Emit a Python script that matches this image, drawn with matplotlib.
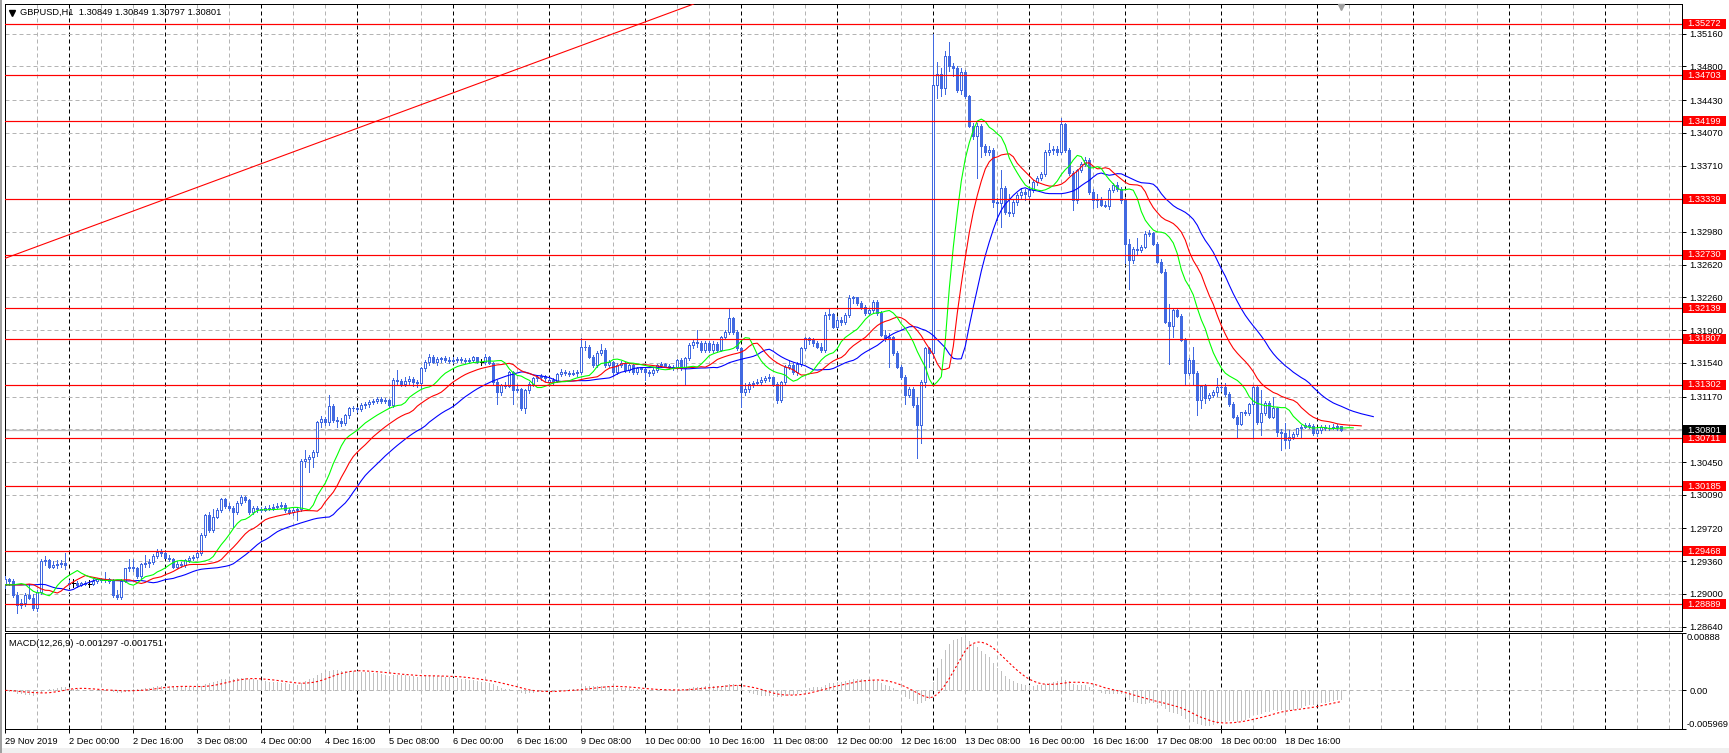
import numpy as np
import matplotlib
matplotlib.use('Agg')
import matplotlib.pyplot as plt
from matplotlib import transforms
from matplotlib.patches import Rectangle

plt.rcParams['font.family'] = ['Liberation Sans', 'DejaVu Sans']

# ---------------- DATA (prices in pips relative to 1.30000) ----------------
symbol_title = "GBPUSD,H1  1.30849 1.30849 1.30797 1.30801"
macd_title = "MACD(12,26,9) -0.001297 -0.001751"
base_price = 1.30000

opens_pips = [
    # 29 Nov
    -90,-84,-86,-101,-112,-110,-101,-104,-115,-98,-64,-63,-70,-68,-67,-66,
    # 2 Dec
    -88,-88,-88,-90,-88,-89,-89,-86,-84,-85,-84,-86,-101,-103,-86,-72,-70,-72,-80,-67,-66,-65,-58,-54,
    # 3 Dec
    -55,-60,-62,-70,-67,-68,-63,-61,-59,-55,-35,-13,-30,-15,-8,4,-3,-6,-10,0,7,3,-10,-6,
    # 4 Dec
    -7,-8,-5,-6,-4,-3,-2,-8,-10,-8,-7,46,48,51,56,89,92,89,107,91,90,88,97,104,
    # 5 Dec
    105,103,108,109,111,112,114,112,113,108,135,134,131,134,136,133,132,148,155,161,155,158,159,157,
    # 6 Dec
    156,157,158,157,156,157,160,155,155,161,154,133,122,130,129,144,124,125,104,124,131,137,138,140,
    # 9 Dec
    133,135,134,142,144,143,142,143,144,172,171,161,152,165,168,152,155,144,152,154,146,152,144,148,
    # 10 Dec
    147,144,143,146,152,153,151,150,149,157,148,159,174,177,176,168,176,168,175,168,182,188,203,188,
    # 11 Dec
    170,122,125,131,132,133,135,137,138,131,113,133,150,152,144,153,170,181,179,176,172,168,207,208,
    # 12 Dec
    194,201,199,207,225,226,220,216,209,212,221,209,185,181,183,165,150,139,119,125,108,86,133,170,
    # 13 Dec
    165,460,472,456,492,480,478,454,474,447,415,403,415,392,386,388,331,330,346,320,319,331,339,342,
    # 16 Dec
    338,344,353,357,362,386,388,389,386,417,388,363,333,366,373,377,342,333,334,328,327,344,350,345,
    # 17 Dec
    333,285,267,279,278,282,296,297,285,265,254,199,195,212,206,179,143,157,143,113,129,115,119,122,
    # 18 Dec
    128,127,120,109,95,87,100,99,109,128,89,99,110,95,105,78,77,69,73,76,82,84,86,85,
    # 19 Dec
    77,80,84,82,83,84,84.9,
]
highs_pips = [
    -80,-82,-84,-98,-106,-99,-89,-100,-96,-62,-58,-62,-64,-63,-63,-55,
    -85,-84,-86,-87,-86,-85,-84,-82,-82,-76,-82,-84,-96,-84,-71,-62,-62,-70,-66,-57,-62,-56,-51,-51,
    -53,-57,-60,-64,-65,-62,-58,-57,-52,-33,-12,-10,-7,-5,5,6,0,-3,2,9,8,4,-3,-3,
    -4,-3,-2,-1,0,1,0,-6,-6,-5,48,58,53,58,90,96,95,119,109,95,94,98,106,107,
    106,110,111,113,114,117,116,115,114,137,146,136,139,140,138,135,150,157,164,163,160,161,162,160,
    160,161,160,159,159,162,161,158,164,162,155,135,131,133,145,145,131,126,125,133,139,141,142,141,
    138,137,143,147,146,145,146,146,181,178,174,163,167,175,170,157,156,154,156,155,154,153,150,150,
    149,146,148,153,155,154,153,152,158,159,161,176,180,190,178,178,178,178,177,184,190,214,205,190,
    172,132,133,134,136,138,140,142,139,133,134,152,156,154,155,172,183,183,181,178,176,210,214,209,
    204,205,209,229,228,227,222,218,214,223,223,211,190,187,184,167,152,141,128,127,117,135,172,172,
    516,485,478,497,507,484,481,478,476,449,418,418,417,395,392,390,335,366,348,340,333,341,345,345,
    346,355,359,364,388,396,392,392,423,418,390,365,367,375,380,379,345,340,336,332,346,352,353,347,
    335,290,281,291,284,299,300,298,287,268,257,219,214,214,208,181,159,172,145,130,131,121,124,137,
    131,132,122,111,97,100,102,110,129,130,124,112,112,117,106,81,88,80,78,83,86,88,88,87,
    83,86,86,86,87,87,84.9,
]
lows_pips = [
    -93,-90,-103,-121,-116,-113,-106,-118,-119,-100,-68,-72,-72,-71,-70,-73,
    -92,-92,-92,-91,-90,-92,-90,-88,-87,-87,-88,-103,-106,-106,-87,-75,-75,-82,-82,-70,-70,-67,-60,-58,
    -61,-64,-72,-72,-70,-70,-65,-63,-61,-57,-37,-32,-32,-17,-10,-5,-8,-26,-12,-2,1,-12,-12,-10,
    -10,-9,-8,-8,-6,-5,-10,-12,-13,-19,-9,40,34,40,52,84,86,86,89,84,85,86,94,101,
    100,101,105,106,109,110,110,110,106,106,131,129,129,131,129,128,126,145,152,154,152,155,155,154,
    154,155,155,154,154,155,154,152,153,153,130,109,119,126,128,109,122,102,99,121,129,134,135,134,
    131,131,133,140,141,140,141,140,142,168,159,150,150,163,150,149,141,142,150,144,144,142,142,144,
    135,140,141,144,150,149,148,146,147,146,131,157,170,172,166,166,166,166,166,167,180,186,186,168,
    106,119,122,128,130,131,133,134,129,110,111,131,147,142,141,151,168,175,173,170,166,166,202,192,
    192,196,197,205,220,218,213,207,207,210,207,184,178,150,163,148,136,109,117,106,49,66,128,150,
    160,445,448,450,475,470,452,450,445,413,400,357,380,383,383,325,311,304,318,316,316,328,335,333,
    335,342,350,355,360,383,384,383,384,386,361,322,330,364,370,340,324,326,327,325,323,342,343,330,
    264,235,264,273,276,280,294,284,264,253,198,153,183,204,178,131,141,131,97,104,110,113,116,118,
    123,118,107,94,71,86,97,97,73,87,75,97,93,93,74,58,61,60,70,74,71,82,82,75,
    74,77,80,80,81,80,79.7,
]
closes_pips = [
    -84,-86,-101,-112,-110,-101,-104,-115,-98,-64,-63,-70,-68,-67,-66,-68,
    -89,-88,-90,-88,-89,-89,-86,-84,-85,-84,-86,-101,-103,-86,-72,-70,-72,-80,-67,-66,-65,-58,-54,-55,
    -60,-62,-70,-67,-68,-63,-61,-59,-55,-35,-13,-30,-15,-8,4,-3,-6,-10,0,7,3,-10,-6,-7,
    -8,-5,-6,-4,-3,-2,-8,-10,-8,-7,46,48,51,56,89,92,89,107,91,90,88,97,104,105,
    103,108,109,111,112,114,112,113,108,135,134,131,134,136,133,132,148,155,161,155,158,159,157,156,
    157,158,157,156,157,160,155,155,161,154,133,122,130,129,144,124,125,104,124,131,137,138,140,137,
    135,134,142,144,143,142,143,144,172,171,161,152,165,168,152,155,144,152,154,146,152,144,148,147,
    144,143,146,152,153,151,150,149,157,148,159,174,177,176,168,176,168,175,168,182,188,203,188,170,
    122,125,131,132,133,135,137,138,131,113,133,150,152,144,153,170,181,179,176,172,168,207,208,194,
    201,199,207,225,226,220,216,209,212,221,209,185,181,183,165,150,139,119,125,108,86,133,170,165,
    460,472,456,492,480,478,454,474,447,415,403,415,392,386,388,331,330,346,320,319,331,339,342,340,
    344,353,357,362,386,388,389,386,417,388,363,333,366,373,377,342,333,334,328,327,344,350,345,333,
    285,267,279,278,282,296,297,285,265,254,199,195,212,206,179,143,157,143,113,129,115,119,122,128,
    127,120,109,95,87,100,99,109,128,89,99,110,95,105,78,77,69,73,76,82,84,86,85,77,
    80,84,82,83,84,85,80.1,
]

# Horizontal support/resistance levels (red) and current price
level_prices = [1.35272, 1.34703, 1.34199, 1.33339, 1.32730, 1.32139,
                1.31807, 1.31302, 1.30711, 1.30185, 1.29468, 1.28889]
current_price = 1.30801
# Red trend line anchors (bar index, price)
trend_bars = [-1.3, 172.3]
trend_prices = [1.3267, 1.3549]
# Price axis ticks
price_ticks = [1.35160, 1.34800, 1.34430, 1.34070, 1.33710, 1.33340, 1.32980,
               1.32620, 1.32260, 1.31900, 1.31540, 1.31170, 1.30810, 1.30450,
               1.30090, 1.29720, 1.29360, 1.29000, 1.28640]
# Time axis labels (every 16 H1 bars)
time_label_bars = list(range(0, 321, 16))
time_labels = ["29 Nov 2019", "2 Dec 00:00", "2 Dec 16:00", "3 Dec 08:00", "4 Dec 00:00",
               "4 Dec 16:00", "5 Dec 08:00", "6 Dec 00:00", "6 Dec 16:00", "9 Dec 08:00",
               "10 Dec 00:00", "10 Dec 16:00", "11 Dec 08:00", "12 Dec 00:00", "12 Dec 16:00",
               "13 Dec 08:00", "16 Dec 00:00", "16 Dec 16:00", "17 Dec 08:00", "18 Dec 00:00",
               "18 Dec 16:00"]
first_day_bar = 16          # 2 Dec 00:00
macd_range = [-0.005969, 0.00888]
# Alligator (jaw, teeth, lips): period, shift, starting value (pips) read at left edge
alligator_periods = [13, 8, 5]
alligator_shifts = [8, 5, 3]
alligator_seeds_pips = [-90, -90, -90]

# ---------------- derived series ----------------
o = base_price + np.array(opens_pips, float) / 1e4
h = base_price + np.array(highs_pips, float) / 1e4
l = base_price + np.array(lows_pips, float) / 1e4
c = base_price + np.array(closes_pips, float) / 1e4
h = np.maximum.reduce([h, o, c])
l = np.minimum.reduce([l, o, c])
n = len(c)
idx = np.arange(n)

def smma(vals, period, seed):
    out = np.empty(len(vals))
    s = seed
    for k, v in enumerate(vals):
        s = (s * (period - 1) + v) / period
        out[k] = s
    return out

def ema(vals, period):
    a = 2.0 / (period + 1)
    out = np.empty(len(vals))
    s = vals[0]
    for k, v in enumerate(vals):
        s = s + a * (v - s)
        out[k] = s
    return out

median = (h + l) / 2
macd = ema(c, 12) - ema(c, 26)
signal = np.array([macd[max(0, k - 8):k + 1].mean() for k in range(n)])

# ---------------- figure layout ----------------
W, H = 1729, 753
DPI = 100
PX = 72.0 / DPI  # one pixel in points
fig = plt.figure(figsize=(W / DPI, H / DPI), dpi=DPI)
fig.patch.set_facecolor('white')

def rect(x0, y0, x1, y1):
    return [x0 / W, 1 - y1 / H, (x1 - x0) / W, (y1 - y0) / H]

MAIN = (5, 4, 1682, 631)
SUB = (5, 633, 1682, 729)
ax = fig.add_axes(rect(*MAIN))
axm = fig.add_axes(rect(*SUB), sharex=ax)

BAR0, STEP = 5.3, 4.0
xlim = ((MAIN[0] - BAR0) / STEP, (MAIN[2] - BAR0) / STEP)
ax.set_xlim(*xlim)
ylo, yhi = 1.285926, 1.354866
ax.set_ylim(ylo, yhi)
axm.set_ylim(macd_range[0], macd_range[1])

FS = 6.7
CANDLE = '#4169E1'
GRID = '#B4B4B4'
DASH = (0, (4, 3))

for a in (ax, axm):
    a.set_facecolor('white')
    for s in a.spines.values():
        s.set_color('black')
        s.set_linewidth(PX)
    # vertical grid: every 8 bars, black dashed day separators
    for b in range(8, int(xlim[1]) + 1, 8):
        if b >= first_day_bar and (b - first_day_bar) % 24 == 0:
            a.axvline(b, color='black', lw=PX, ls=DASH, zorder=1)
        else:
            a.axvline(b, color=GRID, lw=PX, ls=DASH, zorder=1)

for t in price_ticks:
    ax.axhline(t, color=GRID, lw=PX, ls=DASH, zorder=1)
axm.axhline(0, color=GRID, lw=PX, ls=DASH, zorder=1)

# current price line
ax.axhline(current_price, color='#C0C0C0', lw=1.3 * PX, zorder=2)

# candles (crisp, non-antialiased 1-pixel strokes)
bull = c > o
bear = c < o
doji = c == o
ax.vlines(idx[~doji], l[~doji], h[~doji], colors=CANDLE, lw=PX, zorder=3, antialiased=False)
ax.bar(idx[bull], (c - o)[bull], bottom=o[bull], width=0.5, facecolor='white',
       edgecolor=CANDLE, linewidth=PX, zorder=4, antialiased=False)
ax.bar(idx[bear], (o - c)[bear], bottom=c[bear], width=0.5, facecolor=CANDLE,
       edgecolor=CANDLE, linewidth=PX, zorder=4, antialiased=False)
ax.vlines(idx[doji], l[doji], h[doji], colors='black', lw=PX, zorder=4, antialiased=False)
ax.hlines(o[doji], idx[doji] - 0.4, idx[doji] + 0.4, colors='black', lw=PX, zorder=4,
          antialiased=False)

# alligator lines
for period, shift, seed, col in zip(alligator_periods, alligator_shifts,
                                    alligator_seeds_pips, ['#0000FF', '#FF0000', '#00FF00']):
    seedp = base_price + seed / 1e4
    vals = smma(median, period, seedp)
    xs = np.arange(0, n + shift)
    ys = np.concatenate([np.full(shift, seedp), vals])
    ax.plot(xs, ys, color=col, lw=1.1 * PX, zorder=5)

# horizontal red levels and trend line
for p in level_prices:
    ax.axhline(p, color='#FF0000', lw=1.2 * PX, zorder=6)
ax.axline((trend_bars[0], trend_prices[0]), (trend_bars[1], trend_prices[1]),
          color='#FF0000', lw=1.1 * PX, zorder=6)

# price axis
ax.yaxis.tick_right()
ax.yaxis.set_zorder(1.5)
ax.set_yticks(price_ticks)
ax.set_yticklabels([f'{t:.5f}' for t in price_ticks])
ax.tick_params(axis='y', direction='out', length=3, width=PX, pad=2.5,
               labelsize=FS, colors='black', left=False)
ax.tick_params(axis='x', bottom=False, labelbottom=False)

# label boxes on price axis
bt = transforms.blended_transform_factory(ax.transAxes, ax.transData)
axw = MAIN[2] - MAIN[0]
axh = MAIN[3] - MAIN[1]
box_h = 10 / axh * (yhi - ylo)
box_w = 43 / axw
for p, fc in [(pp, '#FF0000') for pp in level_prices] + [(current_price, 'black')]:
    ax.add_patch(Rectangle((1.0 + 1 / axw, p - box_h / 2), box_w, box_h, transform=bt,
                           facecolor=fc, edgecolor='none', clip_on=False, zorder=10))
    ax.text(1.0 + 5 / axw, p, f'{p:.5f}', transform=bt, color='white', fontsize=FS,
            va='center', ha='left', clip_on=False, zorder=11)

# title
ax.text((20 - MAIN[0]) / axw, 1 - (12.5 - MAIN[1]) / axh, symbol_title,
        transform=ax.transAxes, fontsize=FS, va='center', ha='left', color='black', zorder=12)
ax.plot([(12 - MAIN[0]) / axw], [1 - (12.5 - MAIN[1]) / axh], marker='v', ms=4.2,
        color='black', transform=ax.transAxes, clip_on=False, zorder=12)
# chart shift marker
ax.plot([n - 1], [1 - 2.5 / axh], marker='v', ms=4, color='#A0A0A0',
        transform=transforms.blended_transform_factory(ax.transData, ax.transAxes),
        clip_on=False, zorder=12)

# MACD panel
axm.vlines(idx, 0, macd, colors='#C0C0C0', lw=PX, zorder=3, antialiased=False)
axm.plot(idx, signal, color='#FF0000', lw=1.1 * PX, ls=(0, (2, 2)), zorder=4)
subh = SUB[3] - SUB[1]
axm.text((9 - SUB[0]) / axw, 1 - (644 - SUB[1]) / subh, macd_title, transform=axm.transAxes,
         fontsize=FS, va='center', ha='left', color='black')
axm.yaxis.tick_right()
axm.set_yticks([macd_range[0], 0.0, macd_range[1]])
axm.set_yticklabels(['', '0.00', ''])
axm.tick_params(axis='y', direction='out', length=3, width=PX, pad=2.5,
                labelsize=FS, colors='black', left=False)
btm = transforms.blended_transform_factory(axm.transAxes, axm.transData)
axm.text(1.0 + 5 / axw, macd_range[1], f'{macd_range[1]:.5f}', transform=btm,
         fontsize=FS, va='top', ha='left', clip_on=False)
axm.text(1.0 + 5 / axw, macd_range[0], f'{macd_range[0]:.6f}', transform=btm,
         fontsize=FS, va='bottom', ha='left', clip_on=False)

axm.set_xticks(time_label_bars)
axm.set_xticklabels(time_labels)
axm.tick_params(axis='x', direction='out', length=3, width=PX, pad=2.5,
                labelsize=FS, colors='black')
for lbl in axm.get_xticklabels():
    lbl.set_ha('left')

# window decorations
fig.add_artist(Rectangle((0, 0), 1, 5 / H, transform=fig.transFigure,
                         facecolor='#F0F0F0', edgecolor='none', zorder=0))
fig.add_artist(Rectangle((0, 0), 2 / W, 1, transform=fig.transFigure,
                         facecolor='#A0A0A0', edgecolor='none', zorder=0))

fig.savefig('out.png', dpi=DPI, facecolor='white')
